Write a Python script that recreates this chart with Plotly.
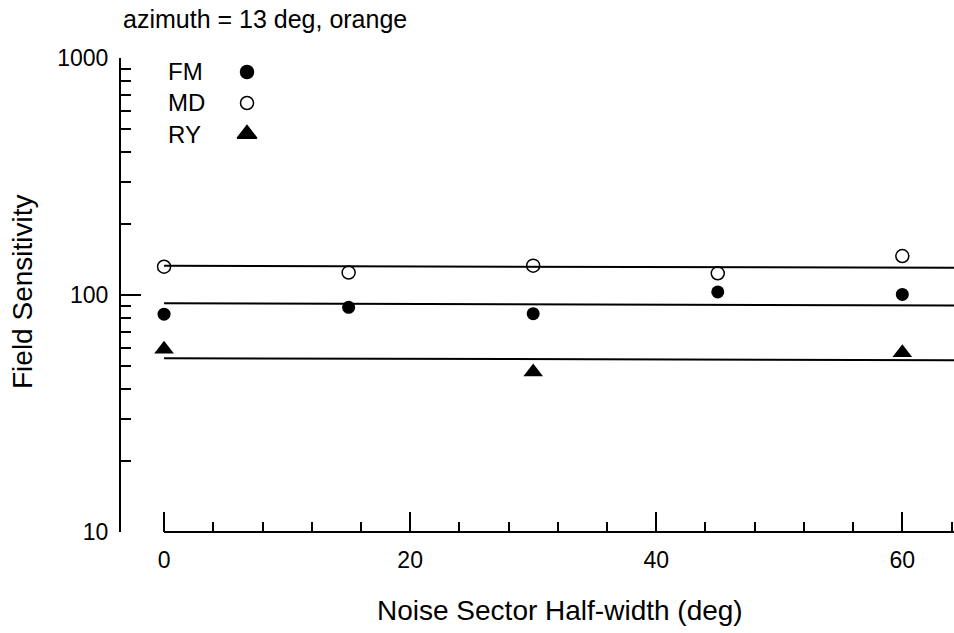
import plotly.graph_objects as go

# ---- data ----
half_width = [0, 15, 30, 45, 60]
fm_vals = [83.0, 88.7, 83.4, 103.0, 100.6]
md_vals = [131.6, 124.4, 133.0, 123.5, 146.0]
ry_x = [0, 30, 60]
ry_vals = [59.0, 47.3, 57.1]

fit_x = [0, 64.5]
fit_fm = [92.2, 90.3]
fit_md = [132.9, 130.2]
fit_ry = [54.1, 53.1]

series_names = ["FM", "MD", "RY"]
y_tickvals = [10, 100, 1000]
y_ticktext = ["10", "100", "1000"]
y_minor_vals = [20, 30, 40, 50, 60, 70, 80, 90,
                200, 300, 400, 500, 600, 700, 800, 900]
x_tickvals = [0, 20, 40, 60]
x_ticktext = ["0", "20", "40", "60"]

FONT = "Liberation Sans, Arial, Helvetica, sans-serif"
BLACK = "black"

W, H = 954, 633
PL, PT, PB = 121, 58, 101   # plot area: x 121..954, y 58..532
PW, PH = W - PL, H - PT - PB


def px_x(xf):
    return (xf - PL) / PW


def px_y(yf):
    return (H - PB - yf) / PH


fig = go.Figure()

# fitted lines
for fy in (fit_md, fit_fm, fit_ry):
    fig.add_trace(go.Scatter(x=fit_x, y=fy, mode="lines",
                             line=dict(color=BLACK, width=2),
                             showlegend=False, hoverinfo="skip",
                             cliponaxis=False))

# data markers
fig.add_trace(go.Scatter(x=half_width, y=fm_vals, mode="markers", name="FM",
                         marker=dict(symbol="circle", size=13, color=BLACK),
                         showlegend=False, cliponaxis=False))
fig.add_trace(go.Scatter(x=half_width, y=md_vals, mode="markers", name="MD",
                         marker=dict(symbol="circle-open", size=13, color=BLACK,
                                     line=dict(width=1.5, color=BLACK)),
                         showlegend=False, cliponaxis=False))
fig.add_trace(go.Scatter(x=ry_x, y=ry_vals, mode="markers", name="RY",
                         marker=dict(symbol="triangle-up", size=17, color=BLACK),
                         showlegend=False, cliponaxis=False))

# custom legend (text then symbol) on an overlay axis in [0,1] units
leg_y = [px_y(72), px_y(103), px_y(134)]
leg_sym = ["circle", "circle-open", "triangle-up"]
leg_size = [13, 13, 17]
for name, yy, sym, sz in zip(series_names, leg_y, leg_sym, leg_size):
    fig.add_trace(go.Scatter(x=[px_x(247)], y=[yy], mode="markers",
                             xaxis="x2", yaxis="y2",
                             marker=dict(symbol=sym, size=sz, color=BLACK,
                                         line=dict(width=1.5, color=BLACK)),
                             showlegend=False, hoverinfo="skip", cliponaxis=False))
    fig.add_annotation(x=px_x(166), y=yy, xref="paper", yref="paper", text=name,
                       showarrow=False, xanchor="left", yanchor="middle",
                       font=dict(family=FONT, size=24, color=BLACK))

# x axis baseline starting at 0
fig.add_shape(type="line", xref="x", yref="paper", x0=0, x1=64.5, y0=0, y1=0,
              line=dict(color=BLACK, width=2))

fig.update_layout(
    width=W, height=H,
    paper_bgcolor="white", plot_bgcolor="white",
    margin=dict(l=PL, r=0, t=PT, b=PB, pad=0),
    font=dict(family=FONT, color=BLACK),
    showlegend=False,
    title=dict(text="azimuth = 13 deg, orange", x=123 / W, xanchor="left",
               xref="container", y=1 - 19 / H, yanchor="middle", yref="container",
               font=dict(family=FONT, size=25, color=BLACK)),
    xaxis=dict(range=[-3.5, 64.2], showline=False, zeroline=False, showgrid=False,
               tickvals=x_tickvals, ticktext=x_ticktext,
               ticks="inside", ticklen=20, tickwidth=2, tickcolor=BLACK,
               ticklabelstandoff=12,
               tickfont=dict(family=FONT, size=23, color=BLACK),
               minor=dict(ticks="inside", ticklen=10, tickwidth=2, tickcolor=BLACK,
                          dtick=4, tick0=0, showgrid=False)),
    yaxis=dict(type="log", range=[1, 3], showline=True, linecolor=BLACK, linewidth=2,
               zeroline=False, showgrid=False,
               tickvals=y_tickvals, ticktext=y_ticktext,
               ticks="inside", ticklen=20, tickwidth=2, tickcolor=BLACK,
               ticklabelstandoff=6,
               tickfont=dict(family=FONT, size=23, color=BLACK),
               minor=dict(ticks="inside", ticklen=10, tickwidth=2, tickcolor=BLACK,
                          tickvals=y_minor_vals, showgrid=False)),
    xaxis2=dict(overlaying="x", range=[0, 1], visible=False),
    yaxis2=dict(overlaying="y", range=[0, 1], visible=False),
)

# axis titles
fig.add_annotation(x=px_x(560), y=px_y(610), xref="paper", yref="paper",
                   text="Noise Sector Half-width (deg)", showarrow=False,
                   xanchor="center", yanchor="middle",
                   font=dict(family=FONT, size=28, color=BLACK))
fig.add_annotation(x=px_x(22), y=px_y(292), xref="paper", yref="paper",
                   text="Field Sensitivity", showarrow=False, textangle=-90,
                   xanchor="center", yanchor="middle",
                   font=dict(family=FONT, size=28, color=BLACK))

fig.write_html("out.html",
               config={"displayModeBar": False},
               post_script="document.body.style.margin='0px';"
                           "document.body.style.padding='0px';")
